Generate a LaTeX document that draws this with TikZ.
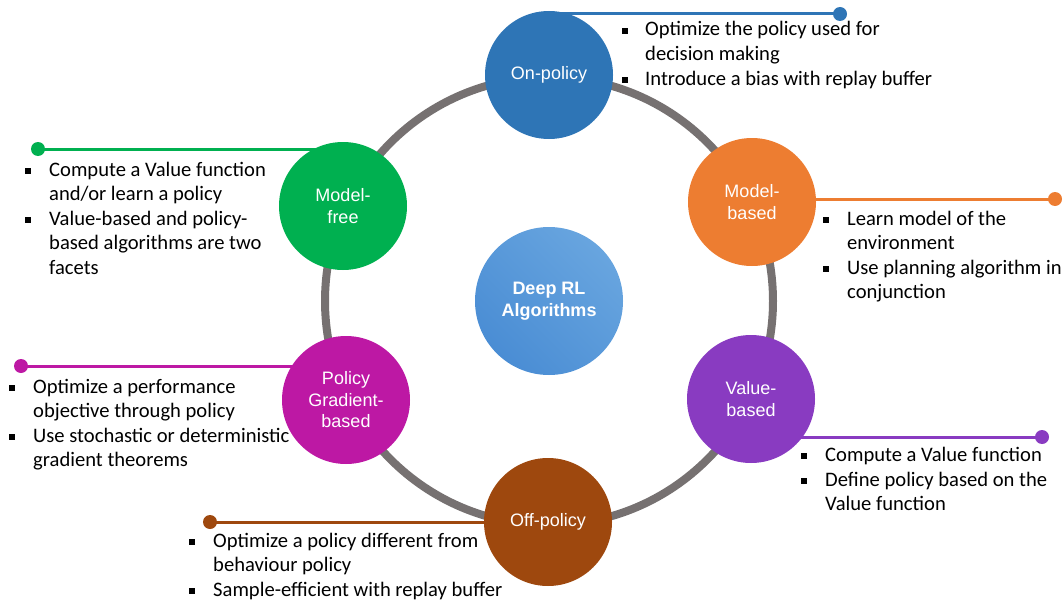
\documentclass[tikz,border=0pt]{standalone}
\usepackage{fontspec}
\setmainfont{Carlito}
\newfontfamily\arialf{Liberation Sans}
\usetikzlibrary{backgrounds}
\definecolor{onp}{HTML}{2E75B6}
\definecolor{mb}{HTML}{ED7D31}
\definecolor{vb}{HTML}{893BC1}
\definecolor{offp}{HTML}{9E480E}
\definecolor{pg}{HTML}{BD18A4}
\definecolor{mf}{HTML}{00B050}
\definecolor{ringc}{HTML}{767171}
\definecolor{cLight}{HTML}{68A5DF}
\definecolor{cDark}{HTML}{4A8DD4}
\tikzset{
  cat/.style={circle, fill=#1, draw=none, minimum size=128pt, inner sep=0pt, align=center,
    text=white, font=\arialf\fontsize{18}{21.5}\selectfont},
  dotn/.style={circle, fill=#1, draw=none, minimum size=14pt, inner sep=0pt},
  conn/.style={draw=#1, line width=3pt},
  ringline/.style={draw=ringc, line width=8pt},
  txt/.style={inner sep=0pt, align=left, anchor=base west, font=\fontsize{20.6}{24.6}\selectfont},
  bul/.style={rectangle, fill=black, minimum size=6pt, inner sep=0pt}
}
\begin{document}
\begin{tikzpicture}[x=1pt,y=-1pt]
\useasboundingbox (0,0) rectangle (1063,602);
% centre
\node[circle, minimum size=148pt, inner sep=0pt, top color=cLight, bottom color=cDark, shading angle=-45,
  align=center, text=white, font=\arialf\bfseries\fontsize{18}{21.5}\selectfont] (ctr) at (549,301) {Deep RL\\Algorithms};
% category circles
\node[cat=onp] (onp) at (549,75) {On-policy};
\node[cat=mb] (mbc) at (752,202) {Model-\\based};
\node[cat=vb] (vbc) at (751,399) {Value-\\based};
\node[cat=offp] (offc) at (548,522) {Off-policy};
\node[cat=pg] (pgc) at (346,400) {Policy\\Gradient-\\based};
\node[cat=mf] (mfc) at (343,206) {Model-\\free};
% dots
\node[dotn=onp] (d1) at (840,14) {};
\node[dotn=mb] (d2) at (1055,199) {};
\node[dotn=vb] (d3) at (1042,437) {};
\node[dotn=offp] (d4) at (210,522) {};
\node[dotn=pg] (d5) at (21,366) {};
\node[dotn=mf] (d6) at (38,149) {};
\begin{pgfonlayer}{background}
\draw[ringline] (ctr.center) circle (224);
\draw[conn=onp] (d1.center) -- (d1 -| onp);
\draw[conn=mb] (d2.center) -- (d2 -| mbc);
\draw[conn=vb] (d3.center) -- (d3 -| vbc);
\draw[conn=offp] (d4.center) -- (d4 -| offc);
\draw[conn=pg] (d5.center) -- (d5 -| pgc);
\draw[conn=mf] (d6.center) -- (d6 -| mfc);
\end{pgfonlayer}
% (base anchor of a multi-line node = baseline of its last line)
% On-policy texts
\node[bul] (b11) at (625,31) {};
\node[txt] (t11) at (645,60.6) {Optimize the policy used for\\decision making};
\node[bul] (b12) at (625,80) {};
\node[txt] (t12) at (645,85) {Introduce a bias with replay buffer};
% Model-based texts
\node[bul] (b21) at (826,220) {};
\node[txt] (t21) at (847,249.6) {Learn model of the\\environment};
\node[bul] (b22) at (826,269) {};
\node[txt] (t22) at (847,298.6) {Use planning algorithm in\\conjunction};
% Value-based texts
\node[bul] (b31) at (804,456) {};
\node[txt] (t31) at (825,461) {Compute a Value function};
\node[bul] (b32) at (804,481) {};
\node[txt] (t32) at (825,510.6) {Define policy based on the\\Value function};
% Off-policy texts
\node[bul] (b41) at (192,542) {};
\node[txt] (t41) at (213,571.6) {Optimize a policy different from\\behaviour policy};
\node[bul] (b42) at (192,591) {};
\node[txt] (t42) at (213,596) {Sample-efficient with replay buffer};
% Policy gradient texts
\node[bul] (b51) at (12,388) {};
\node[txt] (t51) at (33,417.6) {Optimize a performance\\objective through policy};
\node[bul] (b52) at (12,437) {};
\node[txt] (t52) at (33,466.6) {Use stochastic or deterministic\\gradient theorems};
% Model-free texts
\node[bul] (b61) at (28,171) {};
\node[txt] (t61) at (49,200.6) {Compute a Value function\\and/or learn a policy};
\node[bul] (b62) at (28,220) {};
\node[txt] (t62) at (49,274.2) {Value-based and policy-\\based algorithms are two\\facets};
\end{tikzpicture}
\end{document}
